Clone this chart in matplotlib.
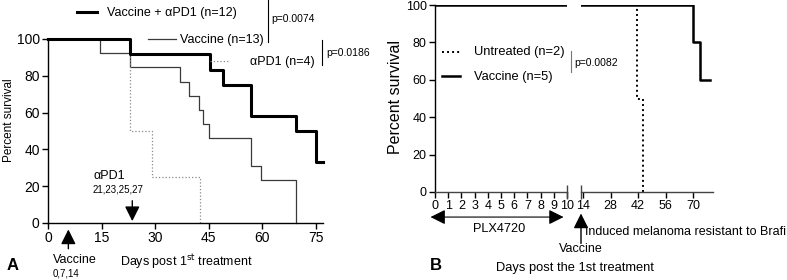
import numpy as np
import matplotlib.pyplot as plt
from matplotlib.lines import Line2D

plt.rcParams['font.family'] = ['Liberation Sans', 'DejaVu Sans']

# Panel A: survival curves (days post 1st treatment, percent survival)
combo_days = [0, 23, 45.4, 49.1, 56.8, 69.4, 75.1, 77]
combo_surv = [100, 91.7, 83.3, 75.0, 58.3, 50.0, 33.3, 33.3]
vacc_days = [0, 14.5, 23, 37, 39.5, 42.4, 43.4, 45, 56.8, 59.7, 69.4]
vacc_surv = [100, 92.3, 84.6, 76.9, 69.2, 61.5, 53.8, 46.2, 30.8, 23.1, 0]
pd1_days = [0, 23, 29, 42.5]
pd1_surv = [100, 50, 25, 0]
a_xticks = [0, 15, 30, 45, 60, 75]
a_yticks = [0, 20, 40, 60, 80, 100]

# Panel B
b_vacc_days = [0, 70, 73.4, 78.5]
b_vacc_surv = [100, 80, 60, 60]
b_untr_days = [0, 41.6, 44.6]
b_untr_surv = [100, 50, 0]
b_xticks1 = list(range(0, 11))
b_xticks2 = [14, 28, 42, 56, 70]

W, H = 787, 280
fig = plt.figure(figsize=(W / 100, H / 100), dpi=100)

FS = 9


def fx(px):
    return px / W


def fy(py):
    return 1 - py / H


def style(ax, left=True):
    ax.spines['top'].set_visible(False)
    ax.spines['right'].set_visible(False)
    ax.spines['left'].set_visible(left)
    for s in ax.spines.values():
        s.set_linewidth(1.0)
    ax.tick_params(direction='out', length=4, width=1.0, pad=2)


# ---------- Panel A ----------
axA = fig.add_axes([fx(48), fy(223), fx(323 - 48), (223 - 39) / H])
axA.plot(vacc_days, vacc_surv, drawstyle='steps-post', color='#3a3a3a', lw=0.9, clip_on=False)
axA.plot(pd1_days, pd1_surv, drawstyle='steps-post', color='#8a8a8a', lw=0.9, ls=':', clip_on=False)
axA.plot(combo_days, combo_surv, drawstyle='steps-post', color='black', lw=2.2, clip_on=False)
axA.set_xlim(0, 77)
axA.set_ylim(0, 100)
axA.set_xticks(a_xticks)
axA.set_yticks(a_yticks)
style(axA)
axA.tick_params(labelsize=10)
fig.text(fx(9), fy(120), 'Percent survival', rotation=90, ha='center', va='center', fontsize=8.5)

# treatment arrows
arr = dict(arrowstyle='-|>,head_length=0.9,head_width=0.45', color='black', lw=1.0, mutation_scale=10)
axA.annotate('', xy=(5.7, -0.02), xytext=(5.7, -0.155), xycoords=('data', 'axes fraction'),
             textcoords=('data', 'axes fraction'), arrowprops=arr, annotation_clip=False)
axA.annotate('', xy=(23.6, -0.005), xytext=(23.6, 0.136), xycoords=('data', 'axes fraction'),
             textcoords=('data', 'axes fraction'), arrowprops=arr, annotation_clip=False)
fig.text(fx(93), fy(176), 'αPD1', fontsize=FS, va='center')
fig.text(fx(93), fy(190), '21,23,25,27', fontsize=7, va='center')
fig.text(fx(53), fy(260), 'Vaccine', fontsize=FS, va='center')
fig.text(fx(53), fy(273), '0,7,14', fontsize=7, va='center')
fig.text(fx(120), fy(262), 'Days post 1$^{\\mathrm{st}}$ treatment', fontsize=FS, va='center')
fig.text(fx(7), fy(266), 'A', fontsize=12, fontweight='bold', va='center')

# legend A
fig.add_artist(Line2D([fx(77), fx(97)], [fy(12), fy(12)], color='black', lw=2.2))
fig.text(fx(107), fy(13), 'Vaccine + αPD1 (n=12)', fontsize=FS, va='center')
fig.add_artist(Line2D([fx(148), fx(176)], [fy(39), fy(39)], color='#3a3a3a', lw=0.9))
fig.text(fx(180), fy(40), 'Vaccine (n=13)', fontsize=FS, va='center')
fig.add_artist(Line2D([fx(210), fx(230)], [fy(61), fy(61)], color='#8a8a8a', lw=0.9, ls=':'))
fig.text(fx(250), fy(62), 'αPD1 (n=4)', fontsize=FS, va='center')
fig.add_artist(Line2D([fx(268), fx(268)], [fy(0), fy(42)], color='black', lw=0.8))
fig.text(fx(271), fy(19), 'p=0.0074', fontsize=7.5, va='center')
fig.add_artist(Line2D([fx(322), fx(322)], [fy(40), fy(65)], color='black', lw=0.8))
fig.text(fx(326), fy(53), 'p=0.0186', fontsize=7.5, va='center')

# ---------- Panel B (broken x axis) ----------
bh = (192 - 5) / H
axB1 = fig.add_axes([fx(435), fy(192), fx(132), bh])
axB2 = fig.add_axes([fx(581), fy(192), fx(132), bh])
for ax in (axB1, axB2):
    ax.plot(b_untr_days, b_untr_surv, drawstyle='steps-post', color='black', lw=1.4,
            ls=(0, (1, 1.6)), clip_on=True)
    ax.plot(b_vacc_days, b_vacc_surv, drawstyle='steps-post', color='black', lw=1.8, clip_on=True)
    ax.set_ylim(0, 100)
    ax.patch.set_alpha(0)
axB1.set_xlim(0, 10)
axB2.set_xlim(13, 80)
axB1.set_xticks(b_xticks1)
axB2.set_xticks(b_xticks2)
axB1.set_yticks(a_yticks)
style(axB1)
style(axB2, left=False)
axB2.tick_params(axis='y', left=False, labelleft=False)
for ax in (axB1, axB2):
    ax.tick_params(labelsize=9)
    ax.spines['bottom'].set_color('#444444')
# break marks
axB1.plot([10], [0], marker='|', markersize=10, color='#444444', clip_on=False)
axB2.plot([13], [0], marker='|', markersize=10, color='#444444', clip_on=False)
fig.text(fx(396), fy(97), 'Percent survival', rotation=90, ha='center', va='center', fontsize=11.5)

# PLX4720 range and vaccine arrow
axB1.annotate('', xy=(-0.55, -0.134), xytext=(9.95, -0.134), xycoords=('data', 'axes fraction'),
              textcoords=('data', 'axes fraction'),
              arrowprops=dict(arrowstyle='<|-|>,head_length=0.9,head_width=0.45', color='black',
                              lw=0.8, mutation_scale=10), annotation_clip=False)
fig.text(fx(499), fy(229), 'PLX4720', fontsize=9.2, ha='center', va='center')
axB2.annotate('', xy=(13, -0.1), xytext=(13, -0.29), xycoords=('data', 'axes fraction'),
              textcoords=('data', 'axes fraction'), arrowprops=arr, annotation_clip=False)
fig.text(fx(581), fy(249), 'Vaccine', fontsize=FS, ha='center', va='center')
fig.text(fx(585), fy(232), 'Induced melanoma resistant to Brafi', fontsize=9.0, va='center')
fig.text(fx(575), fy(268), 'Days post the 1st treatment', fontsize=9.3, ha='center', va='center')
fig.text(fx(430), fy(266), 'B', fontsize=12, fontweight='bold', va='center')

# legend B
fig.add_artist(Line2D([fx(442), fx(460)], [fy(52), fy(52)], color='black', lw=1.4, ls=(0, (1, 1.6))))
fig.text(fx(474), fy(52), 'Untreated (n=2)', fontsize=9.3, va='center')
fig.add_artist(Line2D([fx(442), fx(460)], [fy(76), fy(76)], color='black', lw=1.8))
fig.text(fx(474), fy(77), 'Vaccine (n=5)', fontsize=9.3, va='center')
fig.add_artist(Line2D([fx(571), fx(571)], [fy(51), fy(72)], color='#777777', lw=0.8))
fig.text(fx(574), fy(63), 'p=0.0082', fontsize=7.5, va='center')

fig.savefig('out.png', dpi=100)
